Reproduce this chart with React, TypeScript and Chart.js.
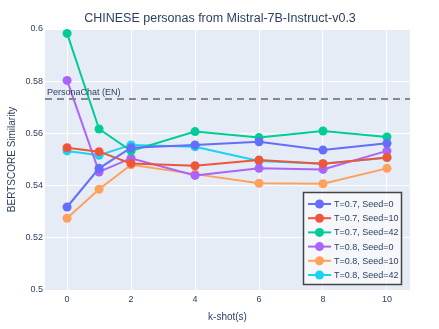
import React, { useEffect, useRef } from "react";
import { Chart, registerables } from "chart.js";

Chart.register(...registerables);

const kShots = [0, 1, 2, 4, 6, 8, 10];
const seriesNames = [
  "T=0.7, Seed=0",
  "T=0.7, Seed=10",
  "T=0.7, Seed=42",
  "T=0.8, Seed=0",
  "T=0.8, Seed=10",
  "T=0.8, Seed=42",
];
const t07s0 = [0.5318, 0.5466, 0.5545, 0.5556, 0.5568, 0.5536, 0.5562];
const t07s10 = [0.5545, 0.553, 0.5485, 0.5476, 0.5498, 0.5484, 0.5508];
const t07s42 = [0.5983, 0.5617, 0.5533, 0.5607, 0.5584, 0.5609, 0.5586];
const t08s0 = [0.5803, 0.5452, 0.5505, 0.5439, 0.5466, 0.5462, 0.5533];
const t08s10 = [0.5275, 0.5386, 0.548, 0.5444, 0.5409, 0.5407, 0.5466];
const t08s42 = [0.5533, 0.5516, 0.5556, 0.5549, 0.5494, 0.5484, 0.5507];
const seriesColors = ["#636efa", "#EF553B", "#00cc96", "#ab63fa", "#FFA15A", "#19d3f3"];
const refValue = 0.5732;
const refLabel = "PersonaChat (EN)";
const xTicks = [0, 2, 4, 6, 8, 10];
const yTicks = [0.5, 0.52, 0.54, 0.56, 0.58, 0.6];
const titleText = "CHINESE personas from Mistral-7B-Instruct-v0.3";
const xTitle = "k-shot(s)";
const yTitle = "BERTSCORE Similarity";

const FONT = "'Liberation Sans', Arial, sans-serif";
const TXT = "#2a3f5f";

export default function App() {
  const ref = useRef<HTMLCanvasElement | null>(null);
  useEffect(() => {
    if (!ref.current) return;
    const allSeries = [t07s0, t07s10, t07s42, t08s0, t08s10, t08s42];
    const datasets = allSeries.map((vals, i) => ({
      label: seriesNames[i],
      data: vals.map((v, j) => ({ x: kShots[j], y: v })),
      borderColor: seriesColors[i],
      backgroundColor: seriesColors[i],
      borderWidth: 2,
      pointRadius: 4.5,
      pointHoverRadius: 4.5,
      pointBorderWidth: 0,
      tension: 0,
    }));

    const deco = {
      id: "deco",
      beforeDraw(chart: any) {
        const { ctx, chartArea } = chart;
        ctx.save();
        ctx.fillStyle = "#fff";
        ctx.fillRect(0, 0, chart.width, chart.height);
        ctx.fillStyle = "#E5ECF6";
        ctx.fillRect(chartArea.left, chartArea.top, chartArea.right - chartArea.left, chartArea.bottom - chartArea.top);
        ctx.restore();
      },
      afterDatasetsDraw(chart: any) {
        const { ctx, chartArea, scales } = chart;
        ctx.save();
        // reference line
        const y = scales.y.getPixelForValue(refValue);
        ctx.strokeStyle = "#888888";
        ctx.lineWidth = 2;
        ctx.setLineDash([7, 5]);
        ctx.beginPath();
        ctx.moveTo(chartArea.left, y);
        ctx.lineTo(chartArea.right, y);
        ctx.stroke();
        ctx.setLineDash([]);
        ctx.fillStyle = TXT;
        ctx.font = `9px ${FONT}`;
        ctx.textAlign = "left";
        ctx.textBaseline = "alphabetic";
        ctx.fillText(refLabel, chartArea.left + 2, y - 3.5);
        // title
        ctx.font = `12.5px ${FONT}`;
        ctx.textAlign = "center";
        ctx.fillText(titleText, 220, 22);
        // axis titles
        ctx.font = `10px ${FONT}`;
        ctx.fillText(xTitle, (chartArea.left + chartArea.right) / 2, 320);
        ctx.save();
        ctx.translate(15, (chartArea.top + chartArea.bottom) / 2);
        ctx.rotate(-Math.PI / 2);
        ctx.fillText(yTitle, 0, 0);
        ctx.restore();
        // legend
        const lx = 303.5, ly = 192.5, lw = 98, lh = 92;
        ctx.fillStyle = "rgba(255,255,255,0.6)";
        ctx.fillRect(lx, ly, lw, lh);
        ctx.strokeStyle = "#444";
        ctx.lineWidth = 1.5;
        ctx.strokeRect(lx, ly, lw, lh);
        ctx.font = `9px ${FONT}`;
        ctx.textAlign = "left";
        ctx.textBaseline = "middle";
        seriesNames.forEach((n, i) => {
          const ry = 204 + i * 14.2;
          ctx.strokeStyle = seriesColors[i];
          ctx.lineWidth = 2;
          ctx.beginPath();
          ctx.moveTo(308, ry);
          ctx.lineTo(331, ry);
          ctx.stroke();
          ctx.fillStyle = seriesColors[i];
          ctx.beginPath();
          ctx.arc(319.5, ry, 4.5, 0, Math.PI * 2);
          ctx.fill();
          ctx.fillStyle = TXT;
          ctx.fillText(n, 334, ry + 0.5);
        });
        ctx.restore();
      },
    };

    const chart = new Chart(ref.current, {
      type: "line",
      data: { datasets },
      options: {
        animation: false,
        responsive: false,
        maintainAspectRatio: false,
        layout: { padding: { top: 29, right: 29, left: 0, bottom: 0 } },
        plugins: { legend: { display: false }, title: { display: false }, tooltip: { enabled: false } },
        scales: {
          x: {
            type: "linear",
            min: -0.69,
            max: 10.72,
            border: { display: false },
            grid: { color: "#ffffff", lineWidth: 1, drawTicks: false },
            afterBuildTicks: (s: any) => { s.ticks = xTicks.map((v) => ({ value: v })); },
            afterFit: (s: any) => { s.height = 39; },
            ticks: { color: TXT, font: { family: FONT, size: 9 }, padding: 4, maxRotation: 0, callback: (v: any) => String(v) },
          },
          y: {
            type: "linear",
            min: 0.5,
            max: 0.6,
            border: { display: false },
            grid: { color: "#ffffff", lineWidth: 1, drawTicks: false },
            afterBuildTicks: (s: any) => { s.ticks = yTicks.map((v) => ({ value: v })); },
            afterFit: (s: any) => { s.width = 45; },
            ticks: { color: TXT, font: { family: FONT, size: 9 }, padding: 2, callback: (v: any) => String(Math.round(v * 100) / 100) },
          },
        },
      },
      plugins: [deco],
    });
    return () => chart.destroy();
  }, []);
  return (
    <div style={{ position: "absolute", left: 0, top: 0, width: 439, height: 329 }}>
      <canvas ref={ref} width={439} height={329} style={{ width: 439, height: 329 }} />
    </div>
  );
}
